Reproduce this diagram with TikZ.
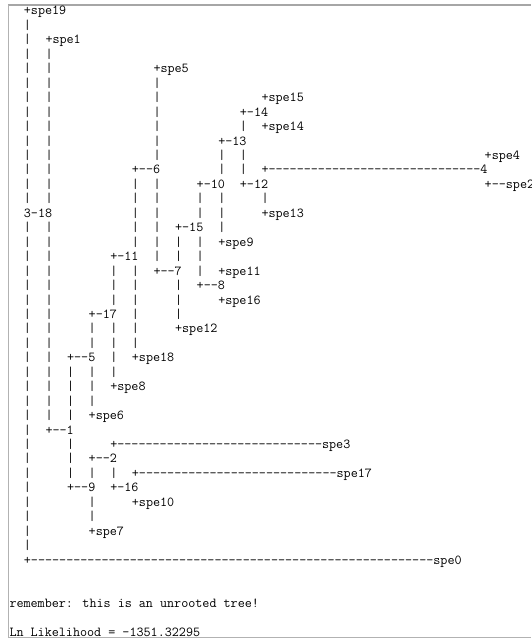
\documentclass[tikz,border=0pt]{standalone}
\usepackage{fontspec}
\tikzset{
  treetext/.style={
    font=\ttfamily\fontsize{13.71}{14.45}\selectfont,
    anchor=base west, inner sep=0pt, outer sep=0pt, text=black
  },
  frameline/.style={draw=gray!60, line width=1pt},
  frametop/.style={draw=gray!70, line width=1.6pt}
}
% a run of n hyphens
\newcommand\dashrun[1]{\ifnum#1>0 -\expandafter\dashrun\expandafter{\the\numexpr#1-1\relax}\fi}

\begin{document}
\begin{tikzpicture}[x=1pt, y=-1pt]
  % ── Page and frame ───────────────────────────────────────────────
  \useasboundingbox (0,0) rectangle (531,639);
  \draw[frametop]   (8,5) -- (531,5);
  \draw[frameline]  (8,5) -- (8,637) -- (531,637);

  % ── Tree, one character cell per column/row ──────────────────────
  \begin{scope}[shift={(23.9,15)}, x=7.2pt, y=-14.45pt]
    % tips and inner nodes
    \foreach \c/\r/\name/\lbl in {
        0/0/spe19/+spe19, 3/2/spe1/+spe1, 18/4/spe5/+spe5,
        33/6/spe15/+spe15, 30/7/n14/+-14, 33/8/spe14/+spe14,
        27/9/n13/+-13, 64/10/spe4/+spe4, 15/11/n6/+--6,
        33/11/n4/{+\dashrun{30}4}, 24/12/n10/+-10, 30/12/n12/+-12,
        64/12/spe2/+--spe2, 0/14/n3/3-18, 33/14/spe13/+spe13,
        21/15/n15/+-15, 27/16/spe9/+spe9, 12/17/n11/+-11,
        18/18/n7/+--7, 27/18/spe11/+spe11, 24/19/n8/+--8,
        27/20/spe16/+spe16, 9/21/n17/+-17, 21/22/spe12/+spe12,
        6/24/n5/+--5, 15/24/spe18/+spe18, 12/26/spe8/+spe8,
        9/28/spe6/+spe6, 3/29/n1/+--1, 12/30/spe3/{+\dashrun{29}spe3},
        9/31/n2/+--2, 15/32/spe17/{+\dashrun{28}spe17},
        6/33/n9/+--9, 12/33/n16/+-16, 15/34/spe10/+spe10,
        9/36/spe7/+spe7, 0/38/spe0/{+\dashrun{57}spe0}}
      { \node[treetext] (\name) at (\c,\r) {\lbl}; }

    % vertical bars: column / first row / last row
    \foreach \c/\a/\b in {
        0/1/13, 0/15/37, 3/3/13, 3/15/28, 6/25/28, 6/30/32,
        9/22/23, 9/25/27, 9/32/32, 9/34/35, 12/18/20, 12/22/25,
        12/32/32, 15/12/16, 15/18/23, 18/5/10, 18/12/17,
        21/16/17, 21/19/21, 24/13/14, 24/16/18, 27/10/11,
        27/13/15, 30/8/8, 30/10/11, 33/13/13}
      { \foreach \r in {\a,...,\b}
          { \node[treetext] (bar-\c-\r) at (\c,\r) {|}; } }

    % ── Footer lines ───────────────────────────────────────────────
    \node[treetext] (note) at (-2,41) {remember: this is an unrooted tree!};
    \node[treetext] (lnl)  at (-2,43) {Ln Likelihood = -1351.32295};
  \end{scope}
\end{tikzpicture}
\end{document}
